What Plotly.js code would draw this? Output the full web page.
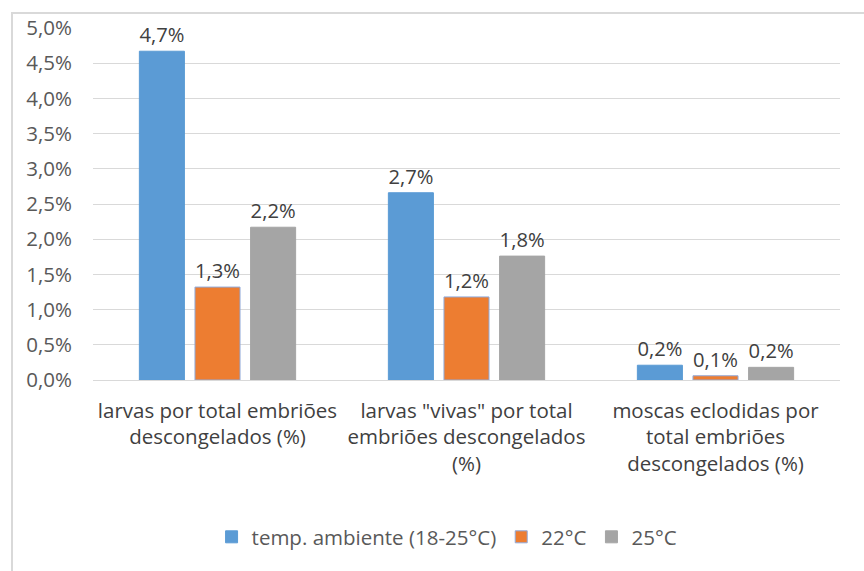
<!DOCTYPE html>
<html>
<head>
<meta charset="utf-8">
<script src="https://cdn.plot.ly/plotly-3.0.1.min.js"></script>
<style>
html,body{margin:0;padding:0;background:#fff;}
#frame{position:absolute;left:11px;top:12px;width:900px;height:600px;border-left:2px solid #d9d9d9;border-top:2px solid #d9d9d9;}
#chart{position:absolute;left:0;top:0;width:864px;height:571px;}
</style>
</head>
<body>
<div id="frame"></div>
<div id="chart"></div>
<script>
const categories = [
  'larvas por total embriões<br>descongelados (%)',
  'larvas "vivas" por total<br>embriões descongelados<br>(%)',
  'moscas eclodidas por<br>total embriões<br>descongelados (%)'
];
const seriesNames = ['temp. ambiente (18-25°C)', '22°C', '25°C'];
const ambiente = [0.0467, 0.0266, 0.0021];
const t22 = [0.0132, 0.0118, 0.0006];
const t25 = [0.0217, 0.0176, 0.0018];
const colors = ['#5b9bd5', '#ed7d31', '#a5a5a5'];
const lineColors = ['#5b9bd5', '#8faadc', '#a5a5a5'];

const font = '"Open Sans", Lato, sans-serif';
const fs = 20.5;
const data = [ambiente, t22, t25].map((vals, i) => ({
  type: 'bar',
  name: seriesNames[i],
  x: categories,
  y: vals,
  marker: {color: colors[i], line: {color: lineColors[i], width: 1}},
  texttemplate: '%{y:.1%}',
  textposition: 'outside',
  cliponaxis: false,
  textfont: {family: font, size: fs, color: '#404040'},
  hoverinfo: 'none'
}));

const layout = {
  width: 864, height: 571,
  margin: {l: 93, r: 24, t: 28, b: 191},
  paper_bgcolor: 'rgba(0,0,0,0)',
  plot_bgcolor: 'rgba(0,0,0,0)',
  separators: ',.',
  barmode: 'group',
  bargap: 0.33,
  bargroupgap: 0.19,
  font: {family: font, size: fs, color: '#595959'},
  xaxis: {
    showgrid: false, zeroline: false, showline: true,
    linecolor: '#d9d9d9', linewidth: 1,
    tickfont: {family: font, size: fs, color: '#404040'},
    ticks: '',
    ticklabelstandoff: 12
  },
  yaxis: {
    range: [0, 0.05], dtick: 0.005, tickformat: '.1%',
    gridcolor: '#d9d9d9', gridwidth: 1, zeroline: false,
    showline: false, ticks: '',
    tickfont: {family: font, size: fs, color: '#595959'},
    ticklabelstandoff: 20
  },
  showlegend: true,
  legend: {
    orientation: 'h', x: 0.474, xanchor: 'center', y: -0.446, yanchor: 'middle',
    font: {family: font, size: fs, color: '#595959'},
    itemwidth: 30, traceorder: 'normal'
  }
};

Plotly.newPlot('chart', data, layout, {displayModeBar: false, staticPlot: true});
</script>
</body>
</html>
